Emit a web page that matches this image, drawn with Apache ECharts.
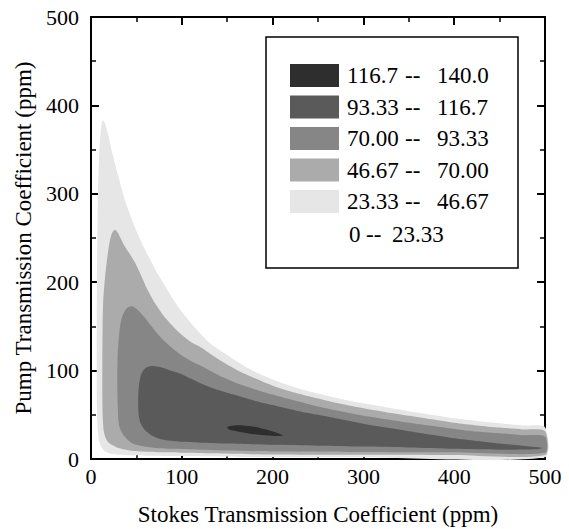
<!DOCTYPE html>
<html>
<head>
<meta charset="utf-8">
<script src="https://cdn.jsdelivr.net/npm/echarts@6/dist/echarts.min.js"></script>
<style>
  html, body { margin: 0; padding: 0; background: #fff; }
  #main { width: 569px; height: 529px; }
</style>
</head>
<body>
<div id="main"></div>
<script>
// contour boundaries, [stokes, pump] in ppm
// level 23.33 (outermost)
var contour23 = [
  [500, 2], [300, 2], [200, 2], [100, 3.5], [60, 3.8], [40, 4.2], [28, 5], [20, 6.5], [15, 9], [11.5, 13], [9.5, 18], [8, 26], [7, 40],
  [6.5, 60], [6.3, 100], [6.3, 150], [6.5, 200], [7, 250], [7.5, 290], [8.3, 325], [9.3, 350], [10.5, 368], [11.5, 377], [12.5, 382],
  [13.7, 383], [15, 381], [17, 374], [19.5, 364], [22.5, 350], [25.5, 338], [30, 320], [35, 301], [41, 282], [48, 263], [56, 244],
  [65, 226], [73, 210], [82, 195], [92, 178], [102, 164], [115, 148], [131, 131], [145, 121], [160, 111], [180, 99], [200, 90],
  [225, 81], [250, 74], [275, 68], [300, 63], [325, 58.5], [350, 54], [375, 50], [400, 46], [425, 43], [450, 40.5], [475, 38], [500, 36]
];
// level 46.67
var contour47 = [
  [500, 4.5], [400, 4.6], [300, 4.8], [200, 5], [100, 7], [80, 7.5], [55, 8.5], [41, 10], [30, 12.5], [24, 15.5], [19, 19], [16, 24], [14, 32],
  [13, 45], [12.5, 70], [12.5, 110], [12.8, 150], [13.5, 180], [15, 200], [17, 220], [19, 236], [21, 248], [23, 255], [25, 258.5],
  [27, 259], [29.5, 256], [33, 249], [37, 241], [42, 233], [48, 223], [55, 208], [62, 192], [70, 177], [80, 162], [95, 145],
  [109, 133], [120, 127], [140, 113], [160, 101], [180, 91.5], [200, 83], [225, 75], [250, 68.5], [275, 62.5], [300, 57.5],
  [325, 53], [350, 49], [375, 45], [400, 41], [425, 38], [450, 35.5], [475, 33.5], [500, 31.5]
];
// level 70.00
var contour70 = [
  [500, 7], [400, 7.5], [300, 8], [200, 8.5], [120, 10.5], [88, 11.5], [70, 12.5], [59, 14], [50, 16], [44.5, 18.5], [40, 22], [36.5, 26], [33, 32], [31, 38], [30, 45],
  [29.5, 60], [29, 80], [29, 100], [29.5, 120], [30.5, 135], [32, 150], [34, 160], [37, 167], [40, 171], [43, 172.5],
  [46, 172.5], [50, 170], [55, 165], [60, 159], [66, 151], [73, 142], [80, 134], [90, 125], [100, 117], [110, 111], [120, 106],
  [140, 95], [160, 86], [180, 79], [200, 73], [225, 66], [250, 59.5], [275, 54], [300, 49], [325, 45], [350, 41], [375, 37.5],
  [400, 34], [425, 31], [450, 29], [475, 27], [500, 25.5]
];
// level 93.33
var contour93 = [
  [497, 12.5], [490, 11], [450, 10.5], [400, 11.5], [350, 13], [300, 14], [250, 15], [200, 16], [150, 17.5], [120, 18.5], [100, 19.5], [85, 21], [75, 23],
  [67, 26.5], [61, 31], [57, 36], [54, 42], [52.5, 50], [52, 60], [52, 70], [52.5, 80], [53.5, 88], [55, 95], [57.5, 100], [61, 103.5],
  [65, 105], [70, 105], [76, 104], [85, 101], [100, 96], [110, 91], [120, 86], [140, 78], [160, 72], [180, 66], [200, 61],
  [225, 55], [250, 50], [275, 45], [300, 40], [325, 35.5], [350, 31.5], [375, 27.5], [400, 23.5], [425, 20.5], [450, 17.5],
  [475, 15], [490, 13.5]
];
// level 116.7 (small island)
var contour117 = [
  [150, 35.5], [152, 37], [158, 38], [168, 38], [180, 36.5], [194, 33], [205, 29.5], [212, 26.5],
  [205, 26], [194, 26.5], [180, 28], [168, 30], [158, 32], [152, 33.5]
];

var bandLow = ['116.7', '93.33', '70.00', '46.67', '23.33', '0'];
var bandHigh = ['140.0', '116.7', '93.33', '70.00', '46.67', '23.33'];

var bands = [contour23, contour47, contour70, contour93, contour117];
var bandColors = ['#e6e6e6', '#ababab', '#868686', '#5a5a5a', '#2e2e2e'];
// legend swatches, top row = darkest
var swatchColors = ['#2e2e2e', '#5a5a5a', '#868686', '#ababab', '#e6e6e6', null];

var font = 'Liberation Serif';

var chart = echarts.init(document.getElementById('main'), null, { renderer: 'svg' });

function axisCommon(showLabel) {
  return {
    type: 'value',
    min: 0,
    max: 500,
    interval: 100,
    axisLine: { show: true, onZero: false, lineStyle: { color: '#000', width: 2 } },
    axisTick: { show: true, inside: true, length: 8, lineStyle: { color: '#000', width: 2 } },
    minorTick: { show: true, splitNumber: 2, length: 5, lineStyle: { color: '#000', width: 1.5 } },
    splitLine: { show: false },
    axisLabel: {
      show: showLabel,
      color: '#000',
      fontFamily: font,
      fontSize: 22
    }
  };
}

var xBottom = axisCommon(true);
xBottom.position = 'bottom';
xBottom.name = 'Stokes Transmission Coefficient (ppm)';
xBottom.nameLocation = 'center';
xBottom.nameGap = 44;
xBottom.nameTextStyle = { color: '#000', fontFamily: font, fontSize: 23 };
xBottom.axisLabel.margin = 6;

var xTop = axisCommon(false);
xTop.position = 'top';

var yLeft = axisCommon(true);
yLeft.position = 'left';
yLeft.name = 'Pump Transmission Coefficient (ppm)';
yLeft.nameLocation = 'center';
yLeft.nameGap = 56;
yLeft.nameTextStyle = { color: '#000', fontFamily: font, fontSize: 23 };
yLeft.axisLabel.margin = 12;

var yRight = axisCommon(false);
yRight.position = 'right';

// legend box
var legendItems = [
  {
    type: 'rect',
    shape: { x: 266, y: 37, width: 252, height: 231 },
    style: { fill: '#fff', stroke: '#000', lineWidth: 1.5 }
  }
];
var rowY = [75.5, 107, 138.5, 170, 201.5, 234];
bandLow.forEach(function (lo, i) {
  var y = rowY[i];
  if (swatchColors[i]) {
    legendItems.push({
      type: 'rect',
      shape: { x: 290, y: y - 11.5, width: 49, height: 23 },
      style: { fill: swatchColors[i] }
    });
  }
  var last = i === bandLow.length - 1;
  var cols = last ? [349, 366, 392] : [347, 405, 437];
  [lo, '--', bandHigh[i]].forEach(function (t, k) {
    legendItems.push({
      type: 'text',
      x: cols[k],
      y: y,
      style: {
        text: t,
        fill: '#000',
        font: '23px "Liberation Serif"',
        textAlign: 'left',
        textVerticalAlign: 'middle'
      }
    });
  });
});

var option = {
  animation: false,
  backgroundColor: '#fff',
  grid: { left: 91, right: 24, top: 17, bottom: 70, outerBoundsMode: 'none', containLabel: false },
  xAxis: [xBottom, xTop],
  yAxis: [yLeft, yRight],
  series: [
    {
      type: 'custom',
      xAxisIndex: 0,
      yAxisIndex: 0,
      data: bands.map(function (b, i) { return [i, 0]; }),
      renderItem: function (params, api) {
        var pts = bands[params.dataIndex].map(function (p) { return api.coord(p); });
        return {
          type: 'polygon',
          shape: { points: pts, smooth: 0.25 },
          style: { fill: bandColors[params.dataIndex], stroke: null }
        };
      },
      z: 1
    }
  ],
  graphic: legendItems
};

chart.setOption(option);
</script>
</body>
</html>
